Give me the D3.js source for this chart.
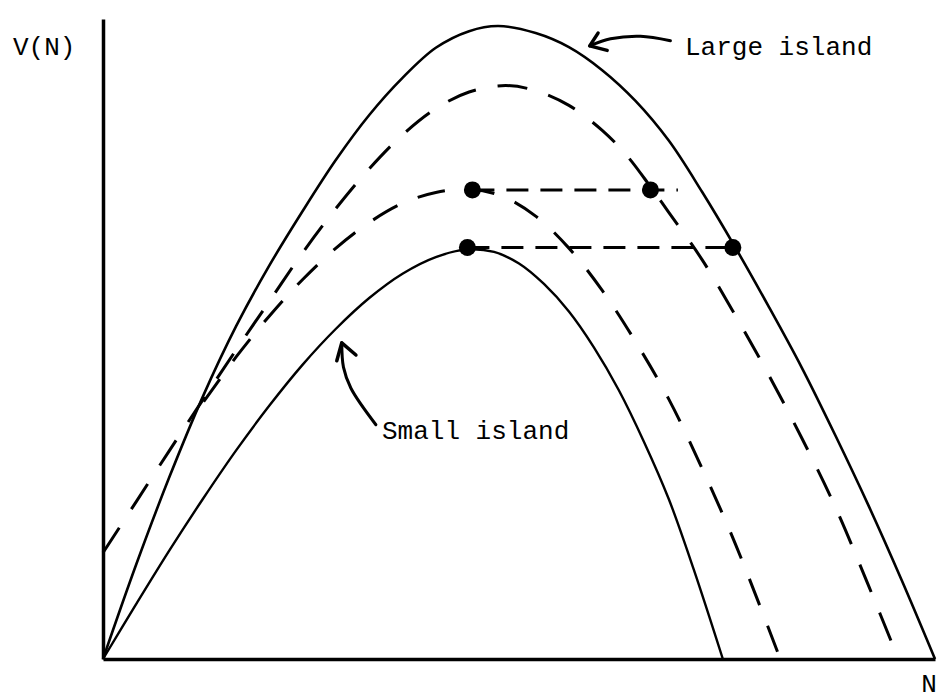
<style>
	body { margin: 0; background: #fff; }
	svg { display: block; }
</style>
<svg width="941" height="699"></svg>

<script src="https://d3js.org/d3.v7.min.js"></script>
<script>

	/*
	
	V(N) curves for a large and a small island

	Solid curves are the two islands, dashed curves lie between them.
	Dots mark the peaks and the points at the same height.

	*/

	// Curves as [N, V] (arbitrary units, 0 - 100)
	const largeIsland = [
		[0, 0], [4, 14.8], [8, 28.5], [12, 41], [16, 52], [20, 61.5], [24, 70],
		[28, 78], [32, 85], [36, 90.8], [40, 95.5], [44, 98.1], [47.5, 98.9],
		[52, 97.8], [56, 95.6], [60, 92], [64, 87.2], [68, 81], [72, 73],
		[76, 64.3], [80, 55.1], [84, 45.5], [88, 35], [92, 24], [96, 12.3], [100, 0]
	]
	const smallIsland = [
		[0, 0], [4, 8.6], [8, 17], [12, 25], [16, 32.6], [20, 39.6], [24, 46],
		[28, 51.6], [32, 56.4], [36, 60.2], [40, 62.8], [43.8, 64], [47, 63.6],
		[50, 61.8], [53, 58.6], [56, 54.3], [59, 48.7], [62, 42], [65, 34],
		[68, 25], [71, 14], [74.5, 0]
	]
	const dashedUpper = [
		[0, 16.6], [4, 24.6], [8, 32.6], [12, 40.5], [16, 48.3], [20, 55.9],
		[24, 63.5], [28, 70.4], [32, 76.6], [36, 81.9], [40, 86], [44, 88.6],
		[48.4, 89.6], [52, 88.8], [56, 86.5], [60, 82.6], [63, 78.6], [65.8, 73.8],
		[68, 69.8], [72, 62.4], [76, 53.7], [80, 44.4], [84, 34.5], [88, 23.8],
		[92, 11.5], [95.6, 0]
	]
	const dashedLower = [
		[12.1, 40.2], [16, 47.2], [20, 53.6], [24, 59.3], [28, 64.2], [32, 68.2],
		[36, 71.2], [40, 72.9], [44.2, 73.4], [48, 72.3], [52, 69.2], [56, 64.2],
		[60, 57.6], [64, 49.6], [68, 40.6], [72, 29.8], [76, 18], [81.4, 0]
	]

	// Dots and the horizontal dashed lines through them
	const dots = [[44.4, 73.3], [65.8, 73.3], [43.8, 64.3], [75.7, 64.3]]
	const levels = [
		{from: 44.4, to: 69.1, v: 73.3},
		{from: 43.8, to: 75.5, v: 64.3}
	]

	// Label arrows: shaft points, then tip with its two wings
	const largeArrow = [[68.2, 96.6], [64.6, 97.3], [61.0, 96.9], [58.5, 95.8]]
	const largeHead = [[59.5, 97.8], [58.5, 95.8], [60.6, 95.1]]
	const smallArrow = [[32.8, 36.6], [29.8, 42.3], [28.9, 45.6], [28.7, 49.4]]
	const smallHead = [[28.1, 46.6], [28.7, 49.4], [30.4, 47.5]]

	const labels = [
		{text: "V(N)", x: 13, y: 55, anchor: "start"},
		{text: "Large island", x: 685, y: 55, anchor: "start"},
		{text: "Small island", x: 382, y: 439, anchor: "start"},
		{text: "N", x: 929, y: 692, anchor: "middle"}
	]

	const svg = d3.select("svg")
		.attr("font-family", "Liberation Mono, monospace")
		.attr("font-size", 26)

	// Scales - the axes carry no ticks
	const x = d3.scaleLinear().domain([0, 100]).range([103, 935])
	const y = d3.scaleLinear().domain([0, 100]).range([659, 19])

	svg.append("g")
		.attr("transform", `translate(0,${y(0)})`)
		.call(d3.axisBottom(x).tickValues([]).tickSizeOuter(0))
		.select(".domain")
			.attr("stroke-width", 3.5)
	svg.append("g")
		.attr("transform", `translate(${x(0)},0)`)
		.call(d3.axisLeft(y).tickValues([]).tickSizeOuter(0))
		.select(".domain")
			.attr("stroke-width", 3.5)

	const line = d3.line()
		.x(d => x(d[0]))
		.y(d => y(d[1]))
		.curve(d3.curveCatmullRom.alpha(0.5))

	const curves = [
		{data: largeIsland, dash: null, width: 2.6},
		{data: smallIsland, dash: null, width: 2.4},
		{data: dashedUpper, dash: "30,22", width: 3},
		{data: dashedLower, dash: "28,22", width: 3}
	]

	svg.append("g")
		.attr("fill", "none")
		.attr("stroke", "#000")
		.selectAll("path")
		.data(curves)
		.join("path")
			.attr("d", d => line(d.data))
			.attr("stroke-width", d => d.width)
			.attr("stroke-dasharray", d => d.dash)

	// Horizontal dashed lines
	svg.append("g")
		.attr("stroke", "#000")
		.attr("stroke-width", 3)
		.attr("stroke-dasharray", "22,12")
		.selectAll("line")
		.data(levels)
		.join("line")
			.attr("x1", d => x(d.from))
			.attr("x2", d => x(d.to))
			.attr("y1", d => y(d.v))
			.attr("y2", d => y(d.v))

	svg.append("g")
		.selectAll("circle")
		.data(dots)
		.join("circle")
			.attr("cx", d => x(d[0]))
			.attr("cy", d => y(d[1]))
			.attr("r", 8.5)
			.attr("fill", "#000")

	// Arrows pointing at the curves
	const plain = d3.line().x(d => x(d[0])).y(d => y(d[1]))
	svg.append("g")
		.attr("fill", "none")
		.attr("stroke", "#000")
		.attr("stroke-width", 3)
		.attr("stroke-linecap", "round")
		.attr("stroke-linejoin", "round")
		.selectAll("path")
		.data([largeArrow, smallArrow])
		.join("path")
			.attr("d", d => line(d))
	svg.append("g")
		.attr("fill", "none")
		.attr("stroke", "#000")
		.attr("stroke-width", 3.5)
		.attr("stroke-linecap", "round")
		.attr("stroke-linejoin", "round")
		.selectAll("path")
		.data([largeHead, smallHead])
		.join("path")
			.attr("d", d => plain(d))

	svg.append("g")
		.selectAll("text")
		.data(labels)
		.join("text")
			.attr("x", d => d.x)
			.attr("y", d => d.y)
			.attr("text-anchor", d => d.anchor)
			.text(d => d.text)

</script>
